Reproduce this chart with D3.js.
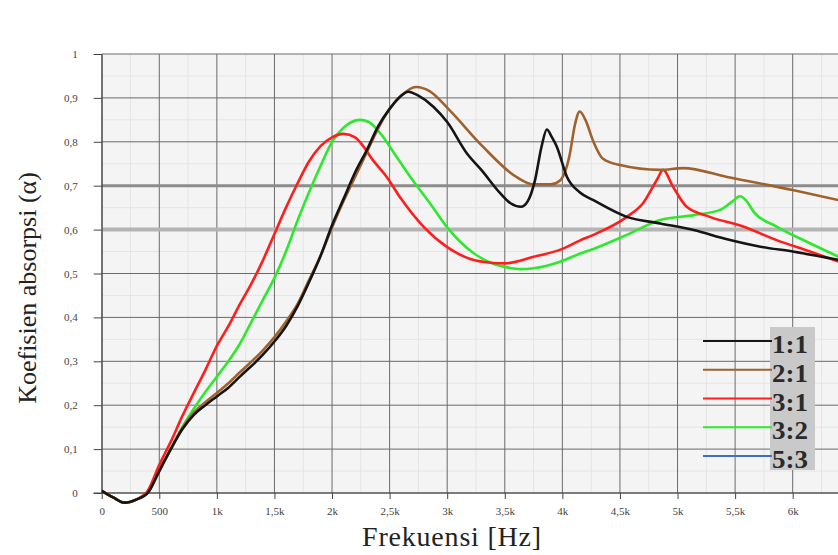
<!DOCTYPE html>
<html lang="id">
  <head>
    <meta charset="UTF-8" />
    <title>Koefisien absorpsi</title>
    <script src="https://d3js.org/d3.v7.min.js"></script>
    <style>
      body {
        margin: 0;
        background: #fff;
        font-family: "Liberation Serif", "DejaVu Serif", serif;
      }
    </style>
  </head>
  <body>
    <script>
      // Data: [frekuensi Hz, koefisien]
      const series11 = [
        [0, 0.005], [100, -0.01], [200, -0.022], [300, -0.015], [400, 0.0],
        [500, 0.05], [600, 0.1], [700, 0.145], [800, 0.178], [900, 0.2],
        [1000, 0.22], [1100, 0.24], [1200, 0.265], [1400, 0.315], [1500, 0.345],
        [1600, 0.38], [1700, 0.425], [1800, 0.48], [1900, 0.54], [2000, 0.61],
        [2100, 0.67], [2200, 0.73], [2300, 0.78], [2400, 0.835], [2500, 0.875],
        [2600, 0.905], [2660, 0.914], [2750, 0.905], [2880, 0.88], [3000, 0.845],
        [3170, 0.774], [3300, 0.735], [3460, 0.683], [3550, 0.66], [3640, 0.652],
        [3700, 0.665], [3760, 0.71], [3820, 0.79], [3865, 0.828], [3910, 0.81],
        [3950, 0.79], [4040, 0.72], [4150, 0.685], [4270, 0.667], [4560, 0.629],
        [4850, 0.614], [5140, 0.599], [5430, 0.578], [5720, 0.561], [6000, 0.55],
        [6400, 0.531]
      ];
      const series21 = [
        [0, 0.005], [100, -0.01], [200, -0.022], [300, -0.015], [400, 0.0],
        [500, 0.05], [600, 0.1], [700, 0.148], [800, 0.183], [900, 0.207],
        [1000, 0.228], [1100, 0.25], [1200, 0.275], [1400, 0.325], [1500, 0.355],
        [1600, 0.39], [1700, 0.43], [1800, 0.485], [1900, 0.54], [2000, 0.605],
        [2100, 0.665], [2200, 0.72], [2300, 0.775], [2400, 0.83], [2500, 0.875],
        [2600, 0.905], [2730, 0.925], [2850, 0.915], [3020, 0.872], [3310, 0.789],
        [3600, 0.72], [3750, 0.703], [3900, 0.703], [3980, 0.712], [4060, 0.766],
        [4110, 0.84], [4150, 0.869], [4200, 0.85], [4270, 0.8], [4350, 0.762],
        [4500, 0.747], [4850, 0.736], [5050, 0.74], [5430, 0.72], [6000, 0.69],
        [6400, 0.667]
      ];
      const series31 = [
        [0, 0.005], [100, -0.01], [200, -0.022], [300, -0.015], [400, 0.005],
        [500, 0.064], [600, 0.117], [700, 0.175], [800, 0.228], [900, 0.28],
        [1000, 0.335], [1100, 0.38], [1200, 0.43], [1300, 0.477], [1400, 0.53],
        [1500, 0.59], [1600, 0.65], [1700, 0.705], [1800, 0.755], [1900, 0.79],
        [2000, 0.81], [2100, 0.818], [2200, 0.81], [2250, 0.797], [2350, 0.76],
        [2475, 0.72], [2600, 0.67], [2800, 0.605], [3000, 0.56], [3200, 0.533],
        [3400, 0.524], [3500, 0.523], [3750, 0.538], [4000, 0.556], [4150, 0.575],
        [4270, 0.588], [4560, 0.629], [4700, 0.66], [4820, 0.713], [4875, 0.736],
        [4960, 0.698], [5080, 0.652], [5280, 0.629], [5570, 0.607], [5860, 0.576],
        [6150, 0.55], [6400, 0.527]
      ];
      const series32 = [
        [0, 0.005], [100, -0.01], [200, -0.022], [300, -0.015], [400, 0.003],
        [500, 0.055], [600, 0.1], [700, 0.15], [800, 0.192], [900, 0.23],
        [1000, 0.265], [1100, 0.3], [1200, 0.34], [1300, 0.39], [1400, 0.44],
        [1500, 0.49], [1600, 0.55], [1700, 0.62], [1800, 0.685], [1900, 0.745],
        [2000, 0.8], [2100, 0.832], [2240, 0.85], [2320, 0.845], [2420, 0.819],
        [2550, 0.77], [2680, 0.72], [2850, 0.66], [3000, 0.605], [3230, 0.546],
        [3400, 0.522], [3520, 0.514], [3640, 0.51], [3750, 0.512], [3980, 0.527],
        [4150, 0.545], [4270, 0.556], [4560, 0.588], [4850, 0.622], [5140, 0.633],
        [5370, 0.645], [5480, 0.665], [5540, 0.676], [5600, 0.665], [5660, 0.641],
        [5860, 0.607], [6150, 0.569], [6400, 0.538]
      ];
      const series53 = []; // in legend only, no visible curve

      const seriesNames = ["1:1", "2:1", "3:1", "3:2", "5:3"];
      const seriesColors = ["#151515", "#a0622c", "#ff1e1e", "#2ee82e", "#3a6fd0"];
      const seriesData = [series11, series21, series31, series32, series53];
      const drawOrder = [4, 3, 2, 1, 0];

      const xTicks = [0, 500, 1000, 1500, 2000, 2500, 3000, 3500, 4000, 4500, 5000, 5500, 6000];
      const xTickLabels = ["0", "500", "1k", "1,5k", "2k", "2,5k", "3k", "3,5k", "4k", "4,5k", "5k", "5,5k", "6k"];
      const yTicks = [0, 0.1, 0.2, 0.3, 0.4, 0.5, 0.6, 0.7, 0.8, 0.9, 1];

      const width = 838;
      const height = 555;
      const plotLeft = 101.7;
      const plotTop = 54;
      const plotBottom = 493;
      const plotRight = 838;

      const svg = d3.select("body").append("svg")
        .attr("width", width)
        .attr("height", height);

      const x = d3.scaleLinear().domain([0, 6000]).range([plotLeft, 792.7]);
      const y = d3.scaleLinear().domain([0, 1]).range([plotBottom, plotTop]);

      svg.append("defs").append("clipPath").attr("id", "plot")
        .append("rect").attr("x", plotLeft).attr("y", plotTop - 5)
        .attr("width", plotRight - plotLeft).attr("height", plotBottom - plotTop + 20);

      // plot background
      svg.append("rect")
        .attr("x", plotLeft).attr("y", plotTop)
        .attr("width", plotRight - plotLeft).attr("height", plotBottom - plotTop)
        .attr("fill", "#f4f4f4");

      // minor grid
      const minorX = d3.range(250, 6500, 500);
      const minorY = d3.range(0.05, 1, 0.1);
      svg.append("g").selectAll("line").data(minorX).join("line")
        .attr("x1", (d) => x(d)).attr("x2", (d) => x(d))
        .attr("y1", plotTop).attr("y2", plotBottom)
        .attr("stroke", "#e4e4e4").attr("stroke-width", 1);
      svg.append("g").selectAll("line").data(minorY).join("line")
        .attr("x1", plotLeft).attr("x2", plotRight)
        .attr("y1", (d) => y(d)).attr("y2", (d) => y(d))
        .attr("stroke", "#e4e4e4").attr("stroke-width", 1);

      // major grid
      svg.append("g").selectAll("line").data(xTicks.concat([6500])).join("line")
        .attr("x1", (d) => x(d)).attr("x2", (d) => x(d))
        .attr("y1", plotTop).attr("y2", plotBottom)
        .attr("stroke", "#6a6a6a").attr("stroke-width", 1);
      svg.append("g").selectAll("line").data(yTicks).join("line")
        .attr("x1", plotLeft).attr("x2", plotRight)
        .attr("y1", (d) => y(d)).attr("y2", (d) => y(d))
        .attr("stroke", (d) => (d === 0.7 ? "#8c8c8c" : d === 0.6 ? "#b4b4b4" : "#6a6a6a"))
        .attr("stroke-width", (d) => (d === 0.7 ? 3 : d === 0.6 ? 4 : 1));

      // axes
      const xAxis = d3.axisBottom(x)
        .tickValues(xTicks)
        .tickFormat((d, i) => xTickLabels[i])
        .tickSize(6)
        .tickPadding(8);
      const gx = svg.append("g")
        .attr("transform", `translate(0,${plotBottom})`)
        .call(xAxis);
      gx.select(".domain").attr("d", `M${plotLeft - 8},0H${plotRight}`).attr("stroke", "#444");
      gx.selectAll(".tick line").attr("stroke", "#444");
      gx.selectAll("text")
        .attr("font-family", "Liberation Serif, serif")
        .attr("font-size", 11).attr("fill", "#444");

      const yAxis = d3.axisLeft(y)
        .tickValues(yTicks)
        .tickFormat((d) => (d === 0 ? "0" : d === 1 ? "1" : d3.format(".1f")(d).replace(".", ",")))
        .tickSize(8)
        .tickPadding(16);
      const gy = svg.append("g")
        .attr("transform", `translate(${plotLeft},0)`)
        .call(yAxis);
      gy.select(".domain").attr("stroke", "#444");
      gy.selectAll(".tick line").attr("stroke", "#444");
      gy.selectAll("text")
        .attr("font-family", "Liberation Serif, serif")
        .attr("font-size", 11).attr("fill", "#444");

      // curves
      const line = d3.line()
        .x((d) => x(d[0]))
        .y((d) => y(d[1]))
        .curve(d3.curveMonotoneX);

      const curves = svg.append("g").attr("clip-path", "url(#plot)");
      drawOrder.forEach((i) => {
        if (seriesData[i].length === 0) return;
        curves.append("path")
          .datum(seriesData[i])
          .attr("d", line)
          .attr("fill", "none")
          .attr("stroke", seriesColors[i])
          .attr("stroke-width", 2.6)
          .attr("stroke-linejoin", "round");
      });

      // legend
      const legend = svg.append("g");
      legend.append("rect")
        .attr("x", 770).attr("y", 327)
        .attr("width", 45).attr("height", 143)
        .attr("fill", "#c9c9c9");
      const rowY = d3.scaleLinear().domain([0, 4]).range([341, 456]);
      seriesNames.forEach((name, i) => {
        legend.append("line")
          .attr("x1", 703).attr("x2", 772)
          .attr("y1", rowY(i)).attr("y2", rowY(i))
          .attr("stroke", seriesColors[i])
          .attr("stroke-width", 1.8);
        legend.append("text")
          .attr("x", 772).attr("y", rowY(i) + 12)
          .attr("font-size", 25)
          .attr("font-weight", "bold")
          .attr("textLength", 36)
          .attr("lengthAdjust", "spacingAndGlyphs")
          .attr("fill", "#2a2a2a")
          .text(name);
      });

      // axis titles
      svg.append("text")
        .attr("x", 452).attr("y", 546)
        .attr("text-anchor", "middle")
        .attr("font-size", 28)
        .attr("letter-spacing", 0.8)
        .attr("fill", "#222")
        .text("Frekuensi [Hz]");
      svg.append("text")
        .attr("transform", "translate(36,288) rotate(-90)")
        .attr("text-anchor", "middle")
        .attr("font-size", 26)
        .attr("fill", "#222")
        .text("Koefisien absorpsi (α)");
    </script>
  </body>
</html>
